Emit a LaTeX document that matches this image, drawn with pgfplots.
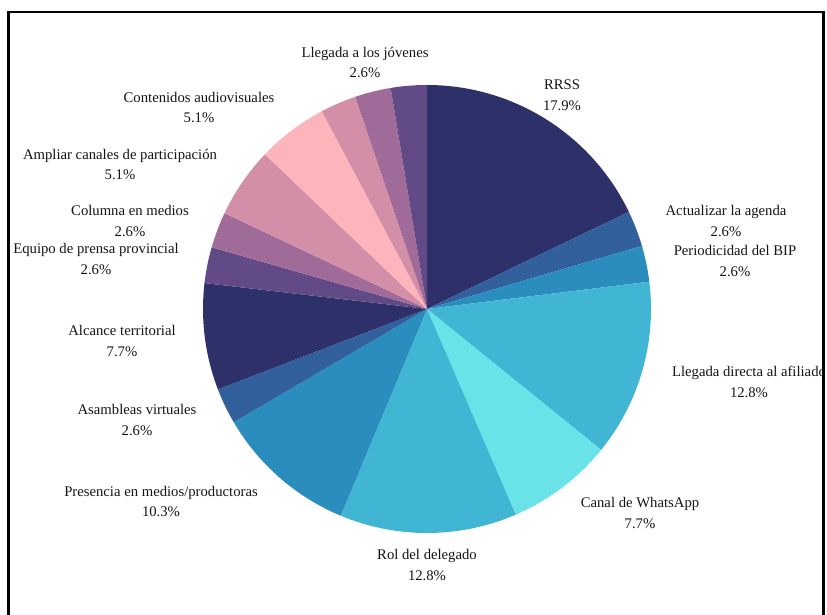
\documentclass[border=0pt]{standalone}
\usepackage{fontspec}
\setmainfont{Liberation Serif}
\usepackage{pgfplots}
\usepackage{pgfplotstable}
\pgfplotsset{compat=1.18}
\definecolor{cnavy}{RGB}{46,49,105}
\definecolor{cblue}{RGB}{49,96,156}
\definecolor{cmid}{RGB}{43,140,190}
\definecolor{clight}{RGB}{65,182,212}
\definecolor{ccyan}{RGB}{106,227,232}
\definecolor{cpurple}{RGB}{97,74,133}
\definecolor{cmauve}{RGB}{160,107,153}
\definecolor{cpink}{RGB}{212,143,168}
\definecolor{clpink}{RGB}{254,180,187}
\newcommand\lbl{\fontsize{14.7}{20.5}\selectfont}

\pgfplotstableread[col sep=comma]{
label,value,col
RRSS,17.9,cnavy
Actualizar la agenda,2.6,cblue
Periodicidad del BIP,2.6,cmid
Llegada directa al afiliado,12.8,clight
Canal de WhatsApp,7.7,ccyan
Rol del delegado,12.8,clight
Presencia en medios/productoras,10.3,cmid
Asambleas virtuales,2.6,cblue
Alcance territorial,7.7,cnavy
Equipo de prensa provincial,2.6,cpurple
Columna en medios,2.6,cmauve
Ampliar canales de participación,5.1,cpink
Contenidos audiovisuales,5.1,clpink
Otros,2.6,cpink
Llegada a los jóvenes,2.6,cmauve
Otros,2.6,cpurple
}\piedata

\pgfplotstablegetrowsof{\piedata}
\pgfmathtruncatemacro\pieN{\pgfplotsretval-1}
\def\pietotal{0}
\pgfplotsforeachungrouped \pieI in {0,...,\pieN}{%
  \pgfplotstablegetelem{\pieI}{value}\of\piedata
  \pgfmathsetmacro\pietotal{\pietotal+\pgfplotsretval}%
}
\def\piecum{0}
\pgfplotsforeachungrouped \pieI in {0,...,\pieN}{%
  \pgfplotstablegetelem{\pieI}{value}\of\piedata
  \let\pieV\pgfplotsretval
  \expandafter\xdef\csname pieval\pieI\endcsname{\pieV}%
  \pgfmathsetmacro\pieSA{90-\piecum/\pietotal*360}%
  \pgfmathsetmacro\piecum{\piecum+\pieV}%
  \pgfmathsetmacro\pieEA{90-\piecum/\pietotal*360}%
  \expandafter\xdef\csname piesa\pieI\endcsname{\pieSA}%
  \expandafter\xdef\csname pieea\pieI\endcsname{\pieEA}%
  \pgfplotstablegetelem{\pieI}{col}\of\piedata
  \expandafter\xdef\csname piecol\pieI\endcsname{\pgfplotsretval}%
  \pgfplotstablegetelem{\pieI}{label}\of\piedata
  \expandafter\xdef\csname pielab\pieI\endcsname{\pgfplotsretval}%
}
\newcommand\pielabel[3]{%
  \edef\pietmp{\noexpand\node[align=center, inner sep=0pt, text=black!92, font=\noexpand\lbl] at (axis cs:#2,#3) {\csname pielab#1\endcsname\noexpand\\\csname pieval#1\endcsname\noexpand\%};}%
  \pietmp}

\begin{document}
\begin{tikzpicture}
\begin{axis}[at={(0,0)}, anchor=south west, scale only axis,
  width=822.3pt, height=615pt, xmin=0, xmax=822.3, ymin=0, ymax=615,
  hide axis, clip=true]
\pgfplotsinvokeforeach{0,...,\pieN}{%
  \edef\pietmp{\noexpand\fill[\csname piecol#1\endcsname] (axis cs:427,306) -- ++(\csname piesa#1\endcsname:224pt) arc[start angle=\csname piesa#1\endcsname, end angle=\csname pieea#1\endcsname, radius=224pt] -- cycle;}%
  \pietmp
}
\pielabel{0}{562}{520}
\pielabel{1}{726}{394}
\pielabel{2}{735}{354}
\pielabel{3}{749}{233}
\pielabel{4}{640}{102}
\pielabel{5}{427}{50}
\pielabel{6}{161}{113.5}
\pielabel{7}{137}{195}
\pielabel{8}{122}{274}
\pielabel{9}{96}{356}
\pielabel{10}{130}{394}
\pielabel{11}{120}{450.5}
\pielabel{12}{199}{507.5}
\pielabel{14}{365}{552.5}
\end{axis}
\draw[line width=2.5pt, black] (8.5pt,0pt) -- (8.5pt,603.2pt) -- (823.5pt,603.2pt) -- (823.5pt,0pt);
\pgfresetboundingbox
\useasboundingbox (0,0) rectangle (827pt,615pt);
\end{tikzpicture}
\end{document}
